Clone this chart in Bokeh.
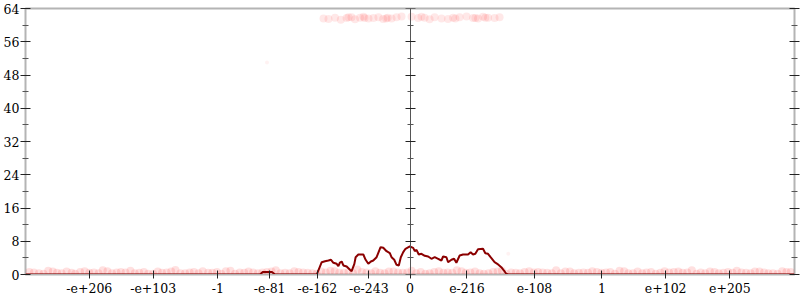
from bokeh.plotting import figure
from bokeh.models import LinearAxis, FixedTicker, Range1d
from bokeh.embed import file_html
from bokeh.resources import INLINE

# x positions are ordinal positions of floats, scaled to [-1, 1]
x_tick_pos = [-0.834, -0.668, -0.500, -0.365, -0.241, -0.107, 0.0, 0.148, 0.324, 0.499, 0.665, 0.832]
x_tick_labels = ["-e+206", "-e+103", "-1", "-e-81", "-e-162", "-e-243", "0", "e-216", "e-108", "1", "e+102", "e+205"]
y_ticks = [0, 8, 16, 24, 32, 40, 48, 56, 64]
y_minor = [4, 12, 20, 28, 36, 44, 52, 60]

# mean-error line
line_x = [-1.0, -0.390, -0.383, -0.359, -0.351, -0.2425, -0.2296, -0.2210, -0.2122, -0.2054, -0.1992,
          -0.1907, -0.1863, -0.1821, -0.1777, -0.1733, -0.1647, -0.1562, -0.1518, -0.1447, -0.1414,
          -0.1344, -0.1214, -0.1154, -0.1084, -0.1017, -0.0955, -0.0869, -0.0765, -0.0695, -0.0610,
          -0.0524, -0.0480, -0.0410, -0.0350, -0.0291, -0.0239, -0.0176, -0.0117, -0.0005, 0.0083,
          0.0125, 0.0169, 0.0228, 0.0298, 0.0384, 0.0472, 0.0558, 0.0643, 0.0732, 0.0817, 0.0861,
          0.0947, 0.0991, 0.1077, 0.1147, 0.1206, 0.1292, 0.1380, 0.1510, 0.1577, 0.1639, 0.1699,
          0.1769, 0.1899, 0.1959, 0.2029, 0.2096, 0.2200, 0.2270, 0.2374, 0.2444, 0.2503, 0.2555, 1.0]
line_y = [0.0, 0.0, 0.6, 0.6, 0.0, 0.0, 2.96, 3.20, 3.37, 3.54, 2.82,
          2.57, 2.00, 2.89, 3.13, 2.17, 1.92, 1.13, 0.79, 2.57, 4.16,
          4.81, 4.81, 3.54, 2.57, 3.13, 3.37, 4.16, 6.57, 6.42, 5.61,
          5.12, 4.16, 3.54, 2.33, 2.17, 4.16, 5.37, 6.18, 6.74, 6.42,
          5.61, 5.94, 4.81, 4.98, 4.50, 4.33, 3.78, 4.16, 3.78, 3.37, 4.33,
          4.16, 2.96, 3.54, 3.78, 2.82, 4.57, 4.81, 4.81, 5.37, 4.81, 4.98,
          6.09, 6.18, 5.12, 4.98, 4.16, 2.96, 2.57, 1.76, 0.96, 0.17, 0.0, 0.0]

# individual error samples (faint points)
top_x = [-0.225, -0.212, -0.195, -0.180, -0.165, -0.152, -0.143, -0.130, -0.121, -0.108, -0.095,
         -0.082, -0.070, -0.058, -0.048, -0.035, -0.022, 0.004, 0.021, 0.038, 0.051, 0.064,
         0.082, 0.099, 0.112, 0.129, 0.147, 0.164, 0.177, 0.190, 0.203, 0.220, 0.233,
         -0.160, -0.118, -0.062, 0.030, 0.118, 0.170, 0.196]
top_y = [61.6, 61.5, 61.8, 61.3, 61.7, 61.9, 61.4, 61.8, 62.0, 61.6, 61.7,
         61.9, 61.5, 61.8, 61.6, 61.9, 62.1, 62.0, 61.7, 61.8, 61.4, 61.9,
         61.6, 61.5, 61.8, 61.9, 62.1, 61.7, 61.6, 62.0, 61.8, 61.7, 61.9,
         61.9, 61.7, 61.6, 62.0, 61.6, 61.7, 61.8]

bot_x = [-0.990, -0.965, -0.941, -0.918, -0.893, -0.871, -0.846, -0.822, -0.799, -0.775, -0.752,
         -0.727, -0.704, -0.681, -0.656, -0.633, -0.610, -0.585, -0.562, -0.539, -0.514, -0.491,
         -0.467, -0.443, -0.420, -0.396, -0.372, -0.349, -0.325, -0.301, -0.278, -0.254, -0.231,
         -0.207, -0.184, -0.160, -0.137, -0.113, -0.090, -0.066, -0.043, -0.019, 0.004, 0.028,
         0.051, 0.075, 0.098, 0.122, 0.145, 0.169, 0.192, 0.216, 0.239, 0.263, 0.286, 0.310,
         0.333, 0.357, 0.380, 0.404, 0.427, 0.451, 0.474, 0.498, 0.521, 0.545, 0.568, 0.592,
         0.615, 0.639, 0.662, 0.686, 0.709, 0.733, 0.756, 0.780, 0.803, 0.827, 0.850, 0.874,
         0.897, 0.921, 0.944, 0.968, 0.990,
         -0.953, -0.880, -0.810, -0.740, -0.668, -0.597, -0.525, -0.455, -0.384, -0.313, -0.243,
         -0.172, -0.101, -0.031, 0.040, 0.110, 0.181, 0.251, 0.322, 0.392, 0.463, 0.533, 0.604,
         0.674, 0.745, 0.815, 0.886, 0.956,
         -0.978, -0.929, -0.906, -0.858, -0.834, -0.787, -0.763, -0.716, -0.692, -0.645, -0.621,
         -0.573, -0.550, -0.502, -0.479, -0.431, -0.408, -0.360, -0.337, -0.290, -0.266, -0.219,
         -0.196, -0.148, -0.125, -0.078, -0.055, -0.007, 0.016, 0.063, 0.087, 0.134, 0.157,
         0.204, 0.228, 0.275, 0.298, 0.345, 0.369, 0.416, 0.439, 0.486, 0.510, 0.557, 0.580,
         0.627, 0.651, 0.698, 0.721, 0.768, 0.792, 0.839, 0.862, 0.909, 0.932, 0.979]
bot_y = [0.6, 0.3, 0.9, 0.4, 0.7, 0.2, 0.8, 0.5, 1.0, 0.3, 0.6,
         0.9, 0.4, 0.2, 0.7, 0.5, 1.1, 0.3, 0.6, 0.8, 0.4, 0.2,
         0.9, 0.5, 0.7, 0.3, 0.6, 1.0, 0.4, 0.8, 0.5, 0.3, 0.7,
         0.9, 0.4, 0.6, 1.2, 0.5, 0.8, 0.3, 0.7, 0.4, 0.9, 0.6,
         0.3, 0.8, 0.5, 1.0, 0.4, 0.7, 0.2, 0.6, 0.9, 0.5, 0.3, 0.8,
         0.6, 0.4, 1.0, 0.7, 0.3, 0.5, 0.8, 0.4, 0.6, 0.9, 0.3, 0.7,
         0.5, 0.2, 0.8, 0.6, 0.4, 1.0, 0.5, 0.7, 0.3, 0.6, 0.9, 0.4,
         0.7, 0.5, 0.3, 0.8, 0.6,
         0.2, 0.4, 0.3, 0.5, 0.2, 0.3, 0.4, 0.2, 0.5, 0.3, 0.2,
         0.4, 0.3, 0.5, 0.2, 0.4, 0.3, 0.2, 0.5, 0.3, 0.4, 0.2, 0.3,
         0.5, 0.2, 0.4, 0.3, 0.2,
         0.5, 0.7, 0.3, 0.6, 0.4, 0.8, 0.5, 0.3, 0.6, 0.4, 0.7,
         0.5, 0.3, 0.6, 0.8, 0.4, 0.5, 0.7, 0.3, 0.6, 0.4, 0.5,
         0.8, 0.3, 0.6, 0.4, 0.7, 0.5, 0.3, 0.6, 0.4, 0.8, 0.5,
         0.3, 0.7, 0.4, 0.6, 0.5, 0.3, 0.7, 0.4, 0.6, 0.5, 0.8, 0.3,
         0.6, 0.4, 0.7, 0.5, 0.3, 0.6, 0.4, 0.5, 0.7, 0.3, 0.6]

stray_x = [-0.372, 0.2555]
stray_y = [51.0, 5.0]

FONT = "DejaVu Serif"
FS = "12.5px"

p = figure(width=800, height=300, output_backend="svg", toolbar_location=None,
           x_range=Range1d(-1, 1), y_range=Range1d(0, 64),
           x_axis_location=None, y_axis_location=None,
           min_border_left=23, min_border_right=6, min_border_top=8, min_border_bottom=26)
p.grid.visible = False
p.outline_line_color = "#b4b4b4"
p.outline_line_width = 2
p.background_fill_color = "white"
p.border_fill_color = "white"

# faint sample points
p.scatter(bot_x, bot_y, size=8, fill_color="red", fill_alpha=0.12, line_color=None)
p.scatter(top_x, top_y, size=8, fill_color="red", fill_alpha=0.09, line_color=None)
p.scatter(stray_x, stray_y, size=4, fill_color="red", fill_alpha=0.05, line_color=None)

# mean line
p.line(line_x, line_y, line_color="#8b0000", line_width=2)

yt = FixedTicker(ticks=y_ticks, minor_ticks=y_minor)

left = LinearAxis(ticker=yt, axis_line_color=None,
                  major_tick_in=5, major_tick_out=5, minor_tick_in=3, minor_tick_out=3,
                  major_tick_line_color="#222222", minor_tick_line_color="#555555",
                  major_label_text_font=FONT, major_label_text_font_size=FS,
                  major_label_text_color="black", major_label_standoff=1)
p.add_layout(left, "left")

right = LinearAxis(ticker=yt, axis_line_color=None,
                   major_tick_in=5, major_tick_out=5, minor_tick_in=3, minor_tick_out=3,
                   major_tick_line_color="#222222", minor_tick_line_color="#555555",
                   major_label_text_font_size="0px", major_label_text_color=None,
                   major_label_standoff=0)
p.add_layout(right, "right")

center = LinearAxis(ticker=yt, fixed_location=0, axis_line_color="#555555", axis_line_width=1,
                    major_tick_in=5, major_tick_out=5, minor_tick_in=3, minor_tick_out=3,
                    major_tick_line_color="#222222", minor_tick_line_color="#555555",
                    major_label_text_font_size="0px", major_label_text_color=None,
                    major_label_standoff=0)
p.add_layout(center, "right")

bottom = LinearAxis(ticker=FixedTicker(ticks=x_tick_pos, minor_ticks=[]),
                    major_label_overrides={t: s for t, s in zip(x_tick_pos, x_tick_labels)},
                    axis_line_color="#b4b4b4", axis_line_width=1,
                    major_tick_in=4, major_tick_out=4,
                    minor_tick_line_color=None,
                    major_tick_line_color="#222222",
                    major_label_text_font=FONT, major_label_text_font_size=FS,
                    major_label_text_color="black", major_label_standoff=4)
p.add_layout(bottom, "below")

open("out.html", "w").write(file_html(p, INLINE))
